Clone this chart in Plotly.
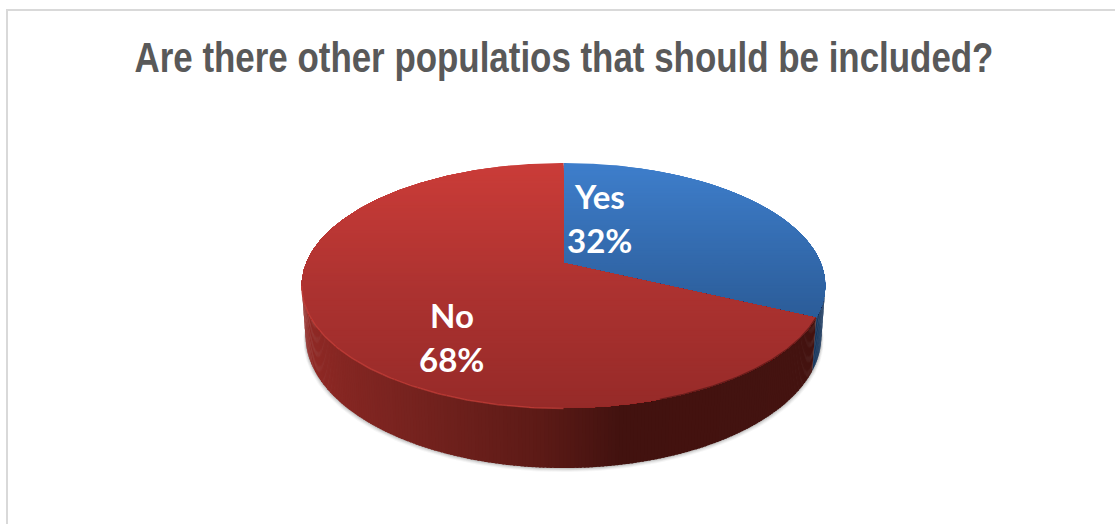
import numpy as np
import plotly.graph_objects as go

# Survey result
title_text = "Are there other populatios that should be included?"
answers = ["Yes", "No"]
shares = [32, 68]

# Pie geometry on a 1115x525 canvas
WIDTH, HEIGHT = 1115, 525
APEX_X, APEX_Y = 563.5, 263.0
RADIUS_X = 257.3
RADIUS_Y = 70.06
TILT = -0.1837
THICKNESS = 49.0
BASE_SHRINK = 0.015

# Colour ramps: (position, rgb)
FACE_RAMPS = {
    "Yes": [(163, (62, 126, 203)), (316, (43, 92, 152))],
    "No": [(163, (202, 60, 56)), (290, (172, 50, 48)), (408, (150, 42, 40))],
}
WALL_RAMPS = {
    "Yes": [(800, (26, 62, 104)), (826, (20, 50, 88))],
    "No": [(302, (146, 42, 38)), (345, (132, 38, 34)), (420, (116, 34, 30)),
           (540, (92, 26, 22)), (620, (66, 18, 15)), (820, (68, 19, 16))],
}


def ramp(stops, v):
    xs = [s[0] for s in stops]
    rgb = [np.interp(v, xs, [s[1][i] for s in stops]) for i in range(3)]
    return "rgb(%d,%d,%d)" % tuple(round(c) for c in rgb)


def rim(theta, drop=0.0):
    """Perspective projection of a rim point; theta runs clockwise from 12 o'clock."""
    across, toward = np.sin(theta), -np.cos(theta)
    w = 1 + TILT * toward
    narrowing = 1 - BASE_SHRINK * drop / THICKNESS
    return APEX_X + narrowing * RADIUS_X * across / w, (APEX_Y + RADIUS_Y * toward + drop) / w


def clip_below(px, py, y0):
    """Keep the part of a polygon at or below the row y0."""
    ox, oy = [], []
    n = len(px)
    for i in range(n):
        x1, y1, x2, y2 = px[i], py[i], px[(i + 1) % n], py[(i + 1) % n]
        if y1 >= y0:
            ox.append(x1)
            oy.append(y1)
        if (y1 >= y0) != (y2 >= y0):
            t = (y0 - y1) / (y2 - y1)
            ox.append(x1 + t * (x2 - x1))
            oy.append(y0)
    return ox, oy


def polygon(fig, xs, ys, color):
    fig.add_trace(go.Scatter(x=xs, y=ys, mode="lines", fill="toself", fillcolor=color,
                             line=dict(width=0), hoverinfo="skip", showlegend=False))


fig = go.Figure()

# Slice boundaries measured clockwise from the top of the pie
edges = np.concatenate([[0], np.cumsum(shares)]) / np.sum(shares) * 2 * np.pi
dense = np.linspace(0, 2 * np.pi, 3601)
dense_x, _ = rim(dense)
wall_start = dense[np.argmax(dense_x)]
wall_end = dense[np.argmin(dense_x)]

# Soft contact shadow under the body
arc = np.linspace(wall_start - 0.1, wall_end + 0.1, 240)
ax, ay = rim(arc, THICKNESS * 1.0)
for offset, alpha in [(4, 0.05), (3, 0.07), (2, 0.10), (1, 0.14)]:
    polygon(fig, list(ax + offset * 0.6 * np.sin(arc)), list(ay + offset),
            "rgba(70,70,70,%.2f)" % alpha)

# Outer wall, drawn as narrow vertical facets
for name, a0, a1 in zip(answers, edges[:-1], edges[1:]):
    lo, hi = max(a0, wall_start), min(a1, wall_end)
    if hi <= lo:
        continue
    steps = max(6, int((hi - lo) / 0.012))
    cuts = np.linspace(lo, hi, steps + 1)
    for t0, t1 in zip(cuts[:-1], cuts[1:]):
        t1x = min(t1 + 0.006, hi)
        seg = np.array([t0, t1x])
        tx, ty = rim(seg)
        bx, by = rim(seg, THICKNESS)
        polygon(fig, [tx[0], tx[1], bx[1], bx[0]], [ty[0], ty[1], by[1], by[0]],
                ramp(WALL_RAMPS[name], float(tx.mean())))

# Top faces with a vertical gradient
for name, a0, a1 in zip(answers, edges[:-1], edges[1:]):
    arc = np.linspace(a0, a1, 400)
    fx, fy = rim(arc)
    px, py = [APEX_X] + list(fx), [APEX_Y] + list(fy)
    for row in np.arange(min(py), max(py), 2.5):
        cx, cy = clip_below(px, py, row)
        if len(cx) >= 3:
            polygon(fig, cx, cy, ramp(FACE_RAMPS[name], row))

# Bevel highlight on the lit side of the rim, dark seam on the shaded side
lit = np.linspace(np.pi, wall_end, 120)
lx, ly = rim(lit)
fig.add_trace(go.Scatter(x=lx, y=ly + 0.5, mode="lines", line=dict(color="rgba(196,64,58,0.7)", width=1.5),
                         hoverinfo="skip", showlegend=False))
seam = np.linspace(edges[1], np.pi * 0.9, 80)
sx, sy = rim(seam)
fig.add_trace(go.Scatter(x=sx, y=sy, mode="lines", line=dict(color="rgba(70,20,18,0.6)", width=1.5),
                         hoverinfo="skip", showlegend=False))

# Chart frame: top and left rules only reach the canvas edges
frame_x = [7, 7, None, 6, WIDTH]
frame_y = [10, 524, None, 10, 10]
fig.add_trace(go.Scatter(x=frame_x, y=frame_y, mode="lines", line=dict(color="#d9d9d9", width=2),
                         hoverinfo="skip", showlegend=False))

# Data labels
label_centres = {"Yes": (599.5, 195.5, 239.5), "No": (451.5, 314.5, 358.5)}
annotations = []
for name, share in zip(answers, shares):
    lx, y1, y2 = label_centres[name]
    for text, y in ((name, y1), ("%d%%" % share, y2)):
        annotations.append(dict(x=lx, y=y, xref="x", yref="y", text=text, showarrow=False,
                                xanchor="center", yanchor="middle",
                                font=dict(family="Lato", size=33, color="white", weight="bold")))

fig.update_layout(
    width=WIDTH, height=HEIGHT,
    margin=dict(l=0, r=0, t=0, b=0),
    paper_bgcolor="white", plot_bgcolor="white",
    showlegend=False,
    title=dict(text=title_text, x=564 / WIDTH, y=1 - 57 / HEIGHT, xanchor="center", yanchor="middle",
               font=dict(family="Liberation Sans", size=42, color="#595959", weight="bold")),
    xaxis=dict(range=[0, WIDTH], visible=False, fixedrange=True),
    yaxis=dict(range=[HEIGHT, 0], visible=False, fixedrange=True),
    annotations=annotations,
)

# Condense the title horizontally about its centre, since no narrow bold face is available
condense_title = """
var t = document.querySelector('.gtitle');
if (t) {
  var s = 859 / t.getComputedTextLength();
  t.setAttribute('transform', 'translate(' + (564 * (1 - s)) + ',0) scale(' + s + ',1)');
}
"""
fig.write_html("out.html", config={"displayModeBar": False}, post_script=condense_title)
